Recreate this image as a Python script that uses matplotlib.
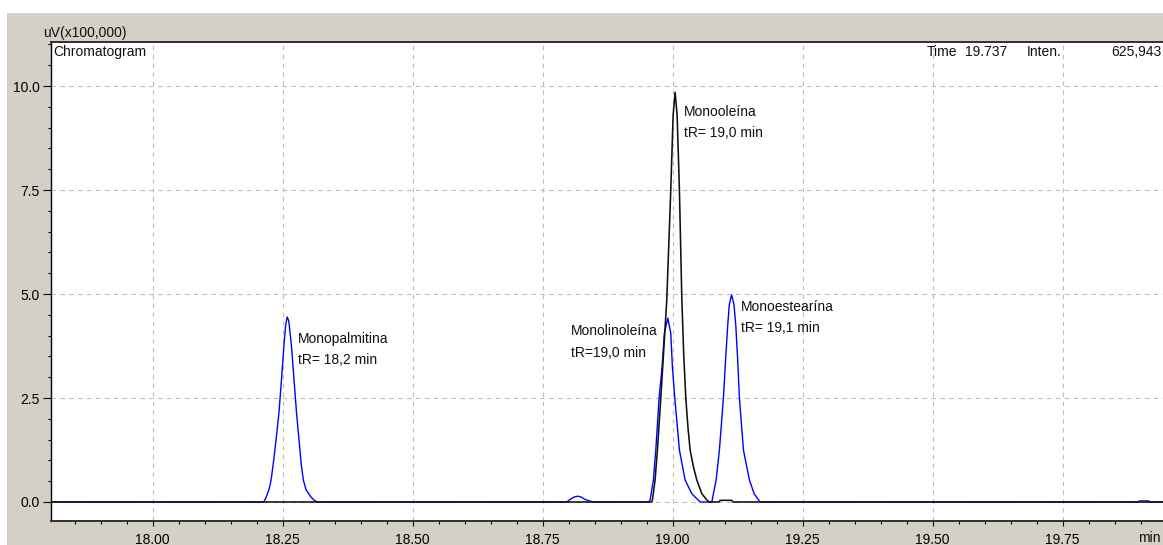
import matplotlib
matplotlib.use('Agg')
import matplotlib.pyplot as plt
from matplotlib.patches import Rectangle
from matplotlib.ticker import FixedLocator, MultipleLocator

plt.rcParams['font.family'] = ['Liberation Sans', 'DejaVu Sans']

# ---------------- data (time in min, intensity in uV x100,000) ----------------
x_start, x_end = 17.8048, 19.966

palm_t = [18.214, 18.219, 18.224, 18.228, 18.233, 18.238, 18.243, 18.248, 18.2525,
          18.256, 18.259, 18.262, 18.2673, 18.272, 18.277, 18.282, 18.286, 18.290,
          18.295, 18.304, 18.310, 18.317]
palm_v = [0.0, 0.13, 0.30, 0.53, 1.0, 1.55, 2.13, 2.95, 3.73,
          4.25, 4.45, 4.35, 3.73, 2.95, 2.13, 1.45, 0.90, 0.53,
          0.30, 0.13, 0.05, 0.0]

bump_t = [18.7965, 18.8029, 18.8106, 18.8177, 18.8240, 18.8317, 18.8394, 18.8477]
bump_v = [0.0, 0.06, 0.12, 0.14, 0.12, 0.06, 0.03, 0.0]

lino_t = [18.9538, 18.9567, 18.9631, 18.9677, 18.9740, 18.9798, 18.9842, 18.9908,
          18.9965, 18.9996, 19.0042, 19.0131, 19.0240, 19.0369, 19.0529]
lino_v = [0.0, 0.05, 0.53, 1.25, 2.5, 3.25, 4.06, 4.42,
          4.06, 3.25, 2.5, 1.25, 0.53, 0.2, 0.0]

stear_t = [19.0754, 19.0837, 19.0900, 19.0977, 19.1020, 19.1060, 19.1090, 19.1135,
           19.1180, 19.1215, 19.1250, 19.1285, 19.1362, 19.1477, 19.1567, 19.1683]
stear_v = [0.0, 0.53, 1.25, 2.5, 3.45, 4.25, 4.75, 4.98,
           4.75, 4.25, 3.45, 2.5, 1.25, 0.53, 0.2, 0.0]

tail_t = [19.895, 19.897, 19.916, 19.918]
tail_v = [0.0, 0.025, 0.025, 0.0]

olein_t = [18.9600, 18.9612, 18.9663, 18.9708, 18.9773, 18.9827, 18.9888, 18.9965,
           19.0010, 19.0048, 19.0087, 19.0131, 19.0177, 19.0215, 19.0254, 19.0295,
           19.0337, 19.0400, 19.0465, 19.0562, 19.0658, 19.0702]
olein_v = [0.0, 0.05, 0.53, 1.25, 2.5, 3.6, 4.86, 7.5,
           9.3, 9.85, 9.3, 7.5, 4.9, 3.5, 2.5, 1.8,
           1.25, 0.85, 0.53, 0.2, 0.05, 0.0]

small_t = [19.089, 19.0913, 19.1138, 19.116]
small_v = [0.0, 0.04, 0.04, 0.0]

x_ticks = [18.00, 18.25, 18.50, 18.75, 19.00, 19.25, 19.50, 19.75]
x_labels = ['18.00', '18.25', '18.50', '18.75', '19.00', '19.25', '19.50', '19.75']
y_ticks = [0.0, 2.5, 5.0, 7.5, 10.0]
y_labels = ['0.0', '2.5', '5.0', '7.5', '10.0']

labels = [
    ('Monopalmitina', 'tR= 18,2 min', 18.279, 3.92, 3.41),
    ('Monooleína', 'tR= 19,0 min', 19.0221, 9.38, 8.88),
    ('Monolinoleína', 'tR=19,0 min', 18.8042, 4.11, 3.59),
    ('Monoestearína', 'tR= 19,1 min', 19.1312, 4.69, 4.18),
]

# ---------------- figure ----------------
W, H = 1163, 545
fig = plt.figure(figsize=(W / 100, H / 100), dpi=100)
fig.patch.set_facecolor('white')
fig.patches.append(Rectangle((7 / W, 0), 1, (H - 13) / H, transform=fig.transFigure,
                             facecolor='#d4d0c8', edgecolor='none', zorder=-10))

ax = fig.add_axes([51 / W, 1 - 521 / H, (1175 - 51) / W, (521 - 42) / H])
ax.set_facecolor('white')

blue_t = [x_start] + palm_t + bump_t + lino_t + stear_t + tail_t + [x_end]
blue_v = [0.0] + palm_v + bump_v + lino_v + stear_v + tail_v + [0.0]
black_t = [x_start] + olein_t + small_t + [x_end]
black_v = [0.0] + olein_v + small_v + [0.0]

ax.plot(blue_t, blue_v, color='#0000ff', lw=1.0, zorder=3)
ax.plot(black_t, black_v, color='#101010', lw=1.15, zorder=4)

ax.set_xlim(x_start, x_end)
ax.set_ylim(-0.457, 11.06)

ax.xaxis.set_major_locator(FixedLocator(x_ticks))
ax.set_xticklabels(x_labels)
ax.xaxis.set_minor_locator(MultipleLocator(0.05))
ax.yaxis.set_major_locator(FixedLocator(y_ticks))
ax.set_yticklabels(y_labels)
ax.yaxis.set_minor_locator(MultipleLocator(0.5))

ax.tick_params(axis='x', which='major', length=3.6, width=0.8, pad=5, labelsize=10, direction='out')
ax.tick_params(axis='x', which='minor', length=2.2, width=0.8, direction='out')
ax.tick_params(axis='y', which='major', length=5.8, width=0.8, pad=2.2, labelsize=10, direction='out')
ax.tick_params(axis='y', which='minor', length=2.2, width=0.8, direction='out')

ax.grid(which='major', color='#bdbdbd', linestyle=(0, (4, 4)), lw=0.8, zorder=1)
ax.set_axisbelow(True)

for side in ['left', 'bottom', 'top']:
    ax.spines[side].set_color('#000000')
    ax.spines[side].set_linewidth(1.0)
ax.spines['top'].set_color('#303030')
ax.spines['top'].set_linewidth(1.4)
ax.spines['bottom'].set_color('#303030')
ax.spines['bottom'].set_linewidth(1.4)
ax.spines['right'].set_visible(False)

for name, tr, x, y1, y2 in labels:
    ax.text(x, y1, name, fontsize=10, ha='left', va='center', color='#111111', zorder=5)
    ax.text(x, y2, tr, fontsize=10, ha='left', va='center', color='#111111', zorder=5)

def fxy(px, py):
    return px / W, 1 - py / H

fig.text(*fxy(43, 33), 'uV(x100,000)', fontsize=10, ha='left', va='center', color='#111111')
fig.text(*fxy(53, 52), 'Chromatogram', fontsize=10, ha='left', va='center', color='#111111')
fig.text(*fxy(927, 52), 'Time', fontsize=10, ha='left', va='center', color='#111111')
fig.text(*fxy(965, 52), '19.737', fontsize=10, ha='left', va='center', color='#111111')
fig.text(*fxy(1027, 52), 'Inten.', fontsize=10, ha='left', va='center', color='#111111')
fig.text(*fxy(1162, 52), '625,943', fontsize=10, ha='right', va='center', color='#111111')
fig.text(*fxy(1161, 538), 'min', fontsize=10, ha='right', va='center', color='#111111')

fig.savefig('out.png', dpi=100)
